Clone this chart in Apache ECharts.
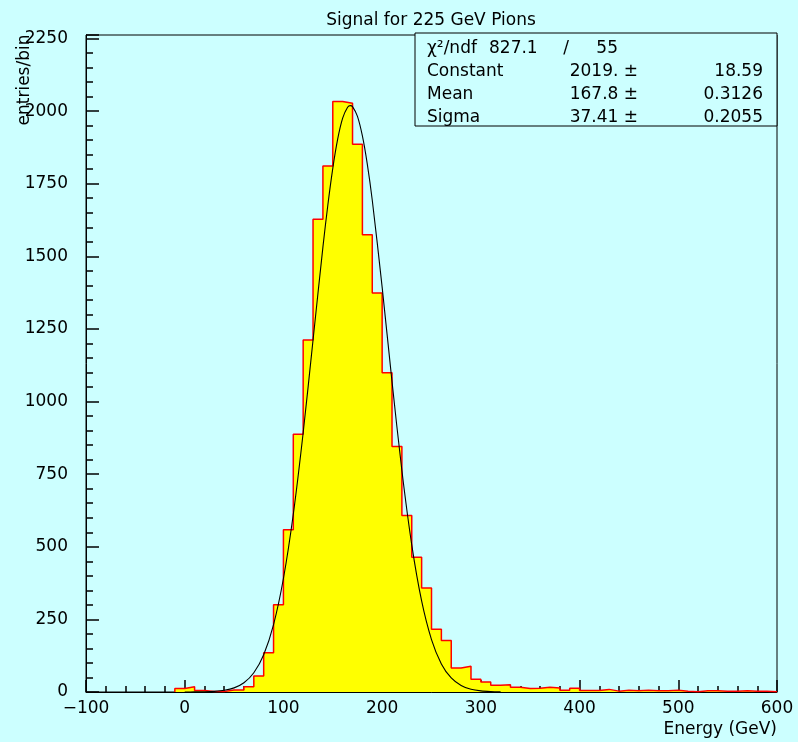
<!DOCTYPE html>
<html>
<head>
<meta charset="utf-8">
<script src="https://cdn.jsdelivr.net/npm/echarts@6/dist/echarts.min.js"></script>
<style>
html,body{margin:0;padding:0;background:#ccffff;}
#c{width:798px;height:742px;}
</style>
</head>
<body>
<div id="c"></div>
<script>
// ---- data ----
const titleText = 'Signal for 225 GeV Pions';
const xAxisName = 'Energy (GeV)';
const yAxisName = 'entries/bin';
const binStart = -10;
const binWidth = 10;
const counts = [12, 18, 5, 2, 2, 7, 7, 18, 55, 135,
  300, 559, 887, 1212, 1628, 1811, 2033, 2027, 1886, 1574,
  1374, 1099, 845, 608, 464, 358, 216, 177, 83, 89,
  44, 34, 23, 25, 16, 12, 13, 16, 14, 6,
  13, 5, 5, 9, 3, 6, 4, 6, 4, 4,
  6, 3, 1, 4, 4, 3, 3, 4, 3, 3,
  1];
const fitEnergy = [0, 10, 20, 30, 40, 50, 60, 70, 80, 90, 100, 110, 120, 130, 140, 145, 150, 155, 160, 165, 167.8,
  170, 175, 180, 185, 190, 200, 210, 220, 230, 240, 250, 260, 270, 280, 290, 300, 310, 320];
const fitValues = [0.1, 0.3, 0.8, 2.3, 5.9, 14.2, 31.8, 66.2, 128.5, 232.3, 390.7, 612.0, 892.6, 1211.8,
  1531.8, 1676.8, 1803.0, 1904.1, 1975.6, 2013.4, 2019, 2015.5, 1982.0, 1914.4, 1816.5, 1693.0, 1394.0,
  1068.6, 762.8, 506.8, 313.5, 180.5, 96.8, 48.3, 22.5, 9.7, 3.9, 1.5, 0.5];
// statistics box
const chi2Text = '827.1';
const ndfText = '55';
const statNames = ['Constant', 'Mean', 'Sigma'];
const statValues = ['2019. \u00b1', '167.8 \u00b1', '37.41 \u00b1'];
const statErrors = ['18.59', '0.3126', '0.2055'];
// axis ranges / ticks
const xMin = -100, xMax = 600, xStep = 100;
const yMin = 0, yMax = 2262, yStep = 250, yMinorStep = 50;

// ---- build ----
const histPts = [[binStart, 0]];
counts.forEach((c, i) => {
  const lo = binStart + i * binWidth;
  histPts.push([lo, c], [lo + binWidth, c]);
});
histPts.push([binStart + counts.length * binWidth, 0]);
const fitPts = fitEnergy.map((e, i) => [e, fitValues[i]]);

const FONT = 'DejaVu Sans';
const FS = 17;
const chart = echarts.init(document.getElementById('c'), null, {renderer: 'canvas'});

function txt(x, y, s, align, extra) {
  return Object.assign({
    type: 'text', x: x, y: y, z: 100,
    style: {text: s, fill: '#000', font: FS + 'px "' + FONT + '"', textAlign: align, textVerticalAlign: 'middle'}
  }, extra || {});
}

const rows = [48.5, 71.5, 94.5, 117.5];
const graphics = [
  txt(431, 21, titleText, 'center'),
  txt(777, 730, xAxisName, 'right'),
  txt(25, 80, yAxisName, 'center', {rotation: Math.PI / 2}),
  {type: 'rect', z: 90, shape: {x: 415, y: 33, width: 362, height: 93},
   style: {fill: '#ccffff', stroke: '#000', lineWidth: 1}},
  txt(427, rows[0], '\u03c7\u00b2/ndf', 'left'),
  txt(489, rows[0], chi2Text, 'left'),
  txt(566, rows[0], '/', 'center'),
  txt(618, rows[0], ndfText, 'right')
];
statNames.forEach((n, i) => {
  graphics.push(txt(427, rows[i + 1], n, 'left'));
  graphics.push(txt(638, rows[i + 1], statValues[i], 'right'));
  graphics.push(txt(763, rows[i + 1], statErrors[i], 'right'));
});

const option = {
  backgroundColor: '#ccffff',
  animation: false,
  grid: {left: 86, right: 21, top: 35, bottom: 50, show: true, borderColor: '#000', borderWidth: 1,
         backgroundColor: '#ccffff', containLabel: false, outerBoundsMode: 'none'},
  xAxis: {
    type: 'value', min: xMin, max: xMax, interval: xStep,
    axisLine: {show: true, onZero: false, lineStyle: {color: '#000', width: 1}},
    axisTick: {show: true, inside: true, length: 12, lineStyle: {color: '#000', width: 1.5}},
    minorTick: {show: true, splitNumber: 5, length: 6, lineStyle: {color: '#000', width: 1.5}},
    splitLine: {show: false}, minorSplitLine: {show: false},
    axisLabel: {color: '#000', fontFamily: FONT, fontSize: FS, margin: 8,
      formatter: v => String(v).replace('-', '\u2212')}
  },
  yAxis: [{
    type: 'value', min: yMin, max: yMax, interval: yStep, position: 'left',
    axisLine: {show: true, onZero: false, lineStyle: {color: '#000', width: 1}},
    axisTick: {show: true, inside: true, length: 13, lineStyle: {color: '#000', width: 1.5}},
    splitLine: {show: false},
    axisLabel: {color: '#000', fontFamily: FONT, fontSize: FS, margin: 18,
      formatter: v => (v % yStep === 0 ? String(v) : '')}
  }, {
    type: 'value', min: yMin, max: yMax, interval: yMinorStep, position: 'left', offset: 0,
    axisLine: {show: false, onZero: false},
    axisTick: {show: true, inside: true, length: 7, lineStyle: {color: '#000', width: 1.5}},
    splitLine: {show: false},
    axisLabel: {show: false}
  }],
  series: [{
    type: 'line', data: histPts, showSymbol: false, symbol: 'none', z: 2,
    lineStyle: {color: '#ff0000', width: 1.5},
    areaStyle: {color: '#ffff00', opacity: 1},
    silent: true
  }, {
    type: 'line', data: fitPts, showSymbol: false, symbol: 'none', smooth: 0.3, z: 3,
    lineStyle: {color: '#000', width: 1.1},
    silent: true
  }],
  graphic: graphics
};
chart.setOption(option);
</script>
</body>
</html>
